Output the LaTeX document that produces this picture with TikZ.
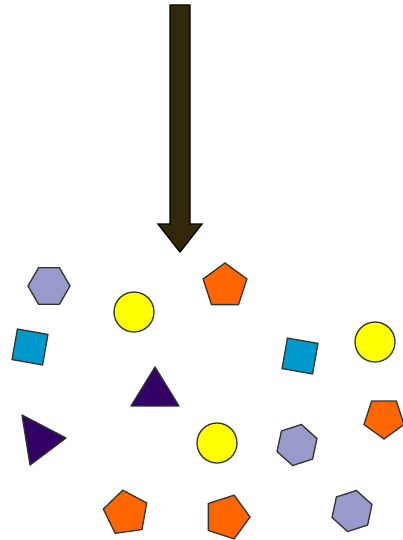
\documentclass[tikz,border=0pt]{standalone}
\usetikzlibrary{shapes.geometric}
\definecolor{lav}{HTML}{9999CC}
\definecolor{yel}{HTML}{FFFF00}
\definecolor{sky}{HTML}{0099CC}
\definecolor{plum}{HTML}{330066}
\definecolor{org}{HTML}{FF6600}
\definecolor{shaft}{HTML}{33290A}
\definecolor{edge}{HTML}{333333}
\tikzset{
  base/.style={draw=edge,line width=1.3pt,inner sep=0pt,outer sep=0pt},
  hexa/.style={base,regular polygon,regular polygon sides=6,minimum size=42pt,fill=lav},
  penta/.style={base,regular polygon,regular polygon sides=5,minimum size=46pt,fill=org},
  dot/.style={base,circle,minimum size=40pt,fill=yel},
  sq/.style={base,rectangle,minimum size=31pt,fill=sky},
  tri/.style={base,fill=plum,line join=round},
  bigarrow/.style={draw=black,line width=1.3pt,fill=shaft,line join=miter}
}
\begin{document}
\begin{tikzpicture}[x=1pt,y=-1pt]
\useasboundingbox (0,0) rectangle (403,540);
% arrow
\draw[bigarrow] (170,5) -- (190,5) -- (190,224) -- (202,224) -- (180,252) -- (158,224) -- (170,224) -- cycle;
% hexagons
\node[hexa] (h1) at (49,286) {};
\node[hexa,rotate=18] (h2) at (297,445) {};
\node[hexa,rotate=18] (h3) at (352,511) {};
% circles
\node[dot] (c1) at (134,312) {};
\node[dot] (c2) at (375,342) {};
\node[dot] (c3) at (217,443) {};
% squares
\node[sq,rotate=-10] (s1) at (30,347) {};
\node[sq,rotate=-10] (s2) at (300,356) {};
% pentagons
\node[penta] (p1) at (225,286) {};
\node[penta,rotate=8] (p2) at (126,513) {};
\node[penta,rotate=-18] (p3) at (227,517) {};
\node[penta,rotate=180,minimum size=42pt] (p4) at (384,418) {};
% triangles
\draw[tri] (155,367) -- (179,406) -- (131,406) -- cycle;
\draw[tri] (22,415) -- (66,438) -- (30,465) -- cycle;
\end{tikzpicture}
\end{document}
